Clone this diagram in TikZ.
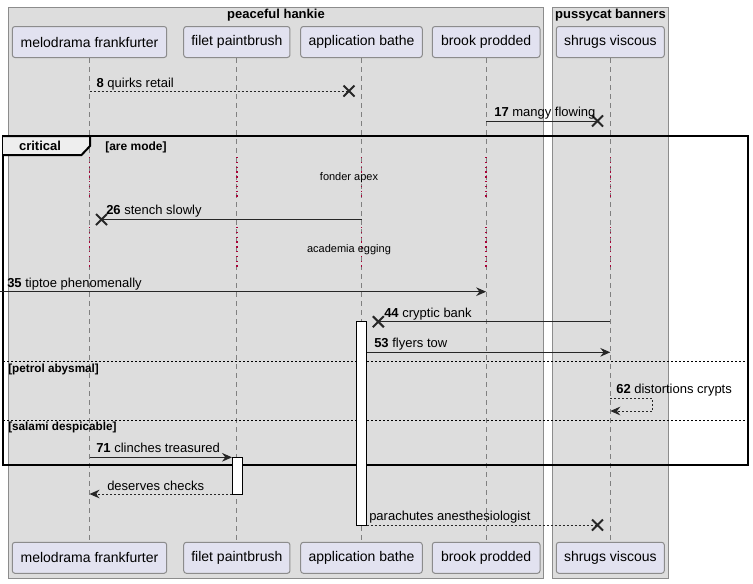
\documentclass[tikz,border=0pt]{standalone}
\usepackage{fontspec}
\setmainfont{Liberation Sans}
\usetikzlibrary{arrows.meta}
\definecolor{boxbg}{HTML}{DDDDDD}
\definecolor{boxline}{HTML}{8C8C8C}
\definecolor{partfill}{HTML}{E2E2F0}
\definecolor{partline}{HTML}{8C8C8C}
\definecolor{lifecol}{HTML}{808080}
\definecolor{delayred}{HTML}{A80036}
\definecolor{tabfill}{HTML}{EEEEEE}
\begin{document}
\begin{tikzpicture}[x=0.75pt,y=-0.75pt,
  grp/.style={fill=boxbg,draw=boxline,line width=0.75pt},
  grptitle/.style={font=\fontsize{9.75}{11}\selectfont\bfseries,inner sep=0,anchor=base},
  part/.style={draw=partline,fill=partfill,rounded corners=2pt,line width=0.75pt,
    minimum height=23.25pt,inner sep=0,font=\fontsize{10.5}{12}\selectfont},
  lifel/.style={draw=lifecol,line width=0.75pt,dash pattern=on 3.75pt off 3pt},
  delayl/.style={draw=delayred,line width=1pt,dash pattern=on 1pt off 2.6pt},
  msg/.style={draw=black!85,line width=0.75pt},
  dmsg/.style={msg,dash pattern=on 1.5pt off 1.5pt},
  arr/.style={-{Stealth[length=7.5pt,width=6.5pt,inset=2.5pt]}},
  xm/.style={draw=black!85,line width=1.5pt},
  lbl/.style={font=\fontsize{9.75}{11}\selectfont,inner sep=0,anchor=base west},
  small/.style={font=\fontsize{8.25}{10}\selectfont,inner sep=0,anchor=base},
  sepl/.style={font=\fontsize{8.8}{10}\selectfont\bfseries,inner sep=0,anchor=base west},
  frm/.style={draw=black,line width=1.5pt},
  sepline/.style={draw=black,line width=0.75pt,dash pattern=on 1.5pt off 1.5pt},
  act/.style={draw=black,fill=white,line width=0.75pt}
]
\useasboundingbox (0,0) rectangle (753,583);
% group boxes
\draw[grp] (8,7) rectangle (543.3,578.3);
\draw[grp] (552.3,7) rectangle (668.3,578.3);
\node[grptitle] (g1) at (276,18.5) {peaceful hankie};
\node[grptitle] (g2) at (610.5,18.5) {pussycat banners};
% participants top
\node[part,minimum width=115.8pt] (p1) at (89.5,42) {melodrama frankfurter};
\node[part,minimum width=79.7pt] (p2) at (236.85,42) {filet paintbrush};
\node[part,minimum width=91.2pt] (p3) at (361.5,42) {application bathe};
\node[part,minimum width=80.8pt] (p4) at (486.15,42) {brook prodded};
\node[part,minimum width=81pt] (p5) at (610.3,42) {shrugs viscous};
% participants bottom
\node[part,minimum width=115.8pt] (q1) at (89.5,557.8) {melodrama frankfurter};
\node[part,minimum width=79.7pt] (q2) at (236.85,557.8) {filet paintbrush};
\node[part,minimum width=91.2pt] (q3) at (361.5,557.8) {application bathe};
\node[part,minimum width=80.8pt] (q4) at (486.15,557.8) {brook prodded};
\node[part,minimum width=81pt] (q5) at (610.3,557.8) {shrugs viscous};
% lifelines
\foreach \i in {1,...,5} {\draw[lifel] (p\i.south) -- (q\i.north);}
% delay dotted segments
\foreach \xx in {89.5,236.85,361.5,486.15,610.3} {
  \draw[delayl] (\xx,157) -- (\xx,197);
  \draw[delayl] (\xx,227) -- (\xx,269);
}
% critical frame
\draw[frm] (3,136) rectangle (747.7,465);
\draw[line width=1.5pt,fill=tabfill] (3,136) -- (90,136) -- (90,146) -- (81.5,155) -- (3,155);
\node[font=\fontsize{9.75}{11}\selectfont\bfseries,inner sep=0,anchor=base] (crit) at (40,150.5) {critical};
\node[sepl,font=\fontsize{9}{10}\selectfont\bfseries] (cg) at (105,150) {[are mode]};
% separators
\draw[sepline] (3,361) -- (747.7,361);
\node[sepl] (s1) at (8,372.5) {[petrol abysmal]};
\draw[sepline] (3,420) -- (747.7,420);
\node[sepl] (s2) at (8,430.5) {[salami despicable]};
% delay texts
\node[small] (d1) at (349,180) {fonder apex};
\node[small] (d2) at (349,252) {academia egging};
% activations
\draw[act] (356.6,321.7) rectangle (366.6,525);
\coordinate (a3r1) at (366.6,352.3);
\coordinate (a3r2) at (366.6,525);
\draw[act] (232,457.3) rectangle (242.6,494);
\coordinate (a2l1) at (232,457.3);
\coordinate (a2l2) at (232,494);
% message 8
\coordinate (m8a) at (89.5,91); \coordinate (m8b) at (349,91);
\draw[dmsg] (m8a) -- (m8b);
\draw[xm] (m8b) ++(-5.5,-5.5) -- ++(11,11) ++(-11,0) -- ++(11,-11);
\node[lbl] at (96.3,87) {\textbf{8} quirks retail};
% message 17
\coordinate (m17a) at (486.15,121); \coordinate (m17b) at (597.5,121);
\draw[msg] (m17a) -- (m17b);
\draw[xm] (m17b) ++(-5.5,-5.5) -- ++(11,11) ++(-11,0) -- ++(11,-11);
\node[lbl] at (494,116) {\textbf{17} mangy flowing};
% message 26
\coordinate (m26a) at (361.5,219.5); \coordinate (m26b) at (101.5,219.5);
\draw[msg] (m26a) -- (m26b);
\draw[xm] (m26b) ++(-5.5,-5.5) -- ++(11,11) ++(-11,0) -- ++(11,-11);
\node[lbl] at (106,214.5) {\textbf{26} stench slowly};
% message 35
\coordinate (m35a) at (0,291.7); \coordinate (m35b) at (486.15,291.7);
\draw[msg,arr] (m35a) -- (m35b);
\node[lbl] at (7,287) {\textbf{35} tiptoe phenomenally};
% message 44
\coordinate (m44a) at (610.3,321.7); \coordinate (m44b) at (378.3,321.7);
\draw[msg] (m44a) -- (m44b);
\draw[xm] (m44b) ++(-5.5,-5.5) -- ++(11,11) ++(-11,0) -- ++(11,-11);
\node[lbl] at (384,317.3) {\textbf{44} cryptic bank};
% message 53
\coordinate (m53b) at (610.3,352.3);
\draw[msg,arr] (a3r1) -- (m53b);
\node[lbl] at (374,347.3) {\textbf{53} flyers tow};
% message 62 (self)
\coordinate (m62a) at (610.3,398.3); \coordinate (m62b) at (610.3,411);
\draw[dmsg,arr] (m62a) -- (652.7,398.3) -- (652.7,411) -- (m62b);
\node[lbl] at (616,393) {\textbf{62} distortions crypts};
% message 71
\coordinate (m71a) at (89.5,457.3);
\draw[msg,arr] (m71a) -- (a2l1);
\node[lbl] at (96,452.8) {\textbf{71} clinches treasured};
% return deserves checks
\coordinate (m72b) at (89.5,494);
\draw[dmsg,arr] (a2l2) -- (m72b);
\node[lbl] at (107,490) {deserves checks};
% parachutes
\coordinate (m80b) at (597.5,525);
\draw[dmsg] (a3r2) -- (m80b);
\draw[xm] (m80b) ++(-5.5,-5.5) -- ++(11,11) ++(-11,0) -- ++(11,-11);
\node[lbl] at (369,520) {parachutes anesthesiologist};
\end{tikzpicture}
\end{document}
